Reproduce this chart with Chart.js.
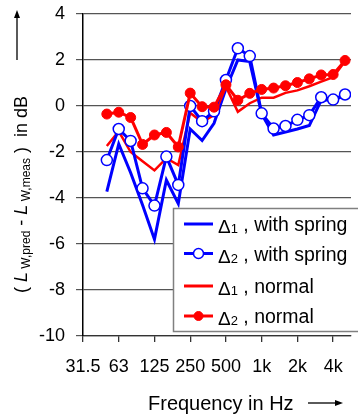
<!DOCTYPE html>
<html>
<head>
<meta charset="utf-8">
<script src="https://cdn.jsdelivr.net/npm/chart.js@4.4.0/dist/chart.umd.min.js"></script>
<style>
  html, body { margin: 0; padding: 0; background: #fff; }
  #wrap { width: 358px; height: 416px; }
</style>
</head>
<body>
<div id="wrap"><canvas id="chart" width="358" height="416"></canvas></div>
<script>
// third-octave bands, position counted in thirds from 31.5 Hz (50 Hz = 2)
const bands = ['50', '63', '80', '100', '125', '160', '200', '250', '315', '400', '500',
  '630', '800', '1k', '1.25k', '1.6k', '2k', '2.5k', '3.15k', '4k', '5k'];
const firstBandPos = 2;
const tickPos = [0, 3, 6, 9, 12, 15, 18, 21];
const tickLabels = ['31.5', '63', '125', '250', '500', '1k', '2k', '4k'];
const yTicks = [-10, -8, -6, -4, -2, 0, 2, 4];

const springD1 = [-3.72, -1.65, -2.9, -4.3, -5.8, -3.22, -4.25, -1.0, -1.5, -0.75, 0.75,
  2.0, 1.93, -0.35, -1.26, -1.13, -1.0, -0.85, 0.26, 0.26, 0.45];
const springD2 = [-2.35, -1.0, -1.52, -3.58, -4.33, -2.2, -3.43, 0.0, -0.66, -0.23, 1.13,
  2.51, 2.17, -0.32, -0.98, -0.87, -0.6, -0.4, 0.38, 0.28, 0.5];
const normalD1 = [-1.74, -1.1, -2.0, -2.4, -2.8, -2.27, -2.57, -0.3, -0.7, -0.4, 0.84,
  -0.25, 0.12, 0.36, 0.36, 0.57, 0.68, 0.86, 1.06, 1.25, 1.95];
const normalD2 = [-0.35, -0.27, -0.5, -1.67, -1.26, -1.15, -1.78, 0.56, -0.03, -0.05, 0.92,
  0.25, 0.55, 0.72, 0.78, 0.88, 1.02, 1.18, 1.35, 1.37, 1.98];

const seriesSym = ['1', '2', '1', '2'];
const seriesText = [' , with spring', ' , with spring', ' , normal', ' , normal'];

const FONT = '"Liberation Sans", Arial, sans-serif';
const BLUE = '#0000ff', RED = '#ff0000';

const pts = arr => arr.map((v, i) => ({ x: i + firstBandPos, y: v }));

// legend and axis titles drawn by hand (legend sits inside the plot)
const decorations = {
  id: 'decorations',
  afterDraw(chart) {
    const ctx = chart.ctx;
    ctx.save();

    // legend box
    const lx = 173.5, ly = 208.5, lw = 190, lh = 123;
    ctx.fillStyle = '#fff';
    ctx.fillRect(lx, ly, lw, lh);
    ctx.strokeStyle = '#808080';
    ctx.lineWidth = 1.5;
    ctx.strokeRect(lx, ly, lw, lh);

    const rows = [224, 253.5, 286, 316];
    rows.forEach((ry, i) => {
      const ds = chart.data.datasets[i];
      ctx.strokeStyle = ds.borderColor;
      ctx.lineWidth = 3;
      ctx.beginPath(); ctx.moveTo(184, ry); ctx.lineTo(213, ry); ctx.stroke();
      if (ds.pointRadius > 0) {
        ctx.beginPath(); ctx.arc(198.5, ry, ds.pointRadius - 0.5, 0, Math.PI * 2);
        ctx.fillStyle = ds.pointBackgroundColor; ctx.fill();
        ctx.lineWidth = ds.pointBorderWidth; ctx.strokeStyle = ds.pointBorderColor; ctx.stroke();
      }
      ctx.fillStyle = '#000';
      ctx.textBaseline = 'alphabetic';
      let x = 218;
      ctx.font = '19px ' + FONT;
      ctx.fillText('Δ', x, ry + 9);
      x += ctx.measureText('Δ').width;
      ctx.font = '13px ' + FONT;
      ctx.fillText(seriesSym[i], x, ry + 9);
      x += ctx.measureText(seriesSym[i]).width;
      ctx.font = '19.5px ' + FONT;
      ctx.fillText(seriesText[i], x, ry + 7);
    });

    // x title
    ctx.fillStyle = '#000';
    ctx.font = '20px ' + FONT;
    ctx.textBaseline = 'alphabetic';
    ctx.fillText('Frequency in Hz', 148, 410);
    arrow(ctx, 308, 403, 343, 403);

    // y title, rotated, with subscripts
    ctx.save();
    ctx.translate(27, 293);
    ctx.rotate(-Math.PI / 2);
    const big = '18px ' + FONT, bigI = 'italic 18px ' + FONT, small = '12px ' + FONT;
    const parts = [['( ', big, 0], ['L', bigI, 0], [' W,pred', small, 3], [' - ', big, 0],
      ['L', bigI, 0], [' W,meas', small, 3], [' )  in dB', big, 0]];
    let x = 0;
    for (const [t, f, dy] of parts) {
      ctx.font = f;
      ctx.fillText(t, x, dy);
      x += ctx.measureText(t).width;
    }
    arrow(ctx, 233, -10, 283, -10);
    ctx.restore();

    ctx.restore();
  }
};

function arrow(ctx, x1, y1, x2, y2) {
  ctx.strokeStyle = '#000';
  ctx.fillStyle = '#000';
  ctx.lineWidth = 1.3;
  ctx.beginPath(); ctx.moveTo(x1, y1); ctx.lineTo(x2 - 5, y2); ctx.stroke();
  ctx.beginPath();
  ctx.moveTo(x2, y2); ctx.lineTo(x2 - 8, y2 - 3); ctx.lineTo(x2 - 8, y2 + 3);
  ctx.closePath(); ctx.fill();
}

new Chart(document.getElementById('chart'), {
  type: 'line',
  data: {
    datasets: [
      { label: 'Δ1 , with spring', data: pts(springD1), borderColor: BLUE, borderWidth: 3,
        pointRadius: 0, order: 3, tension: 0 },
      { label: 'Δ2 , with spring', data: pts(springD2), borderColor: BLUE, borderWidth: 3,
        pointRadius: 5.5, pointBackgroundColor: '#fff', pointBorderColor: BLUE, pointBorderWidth: 1.5,
        order: 1, tension: 0 },
      { label: 'Δ1 , normal', data: pts(normalD1), borderColor: RED, borderWidth: 2.5,
        pointRadius: 0, order: 2, tension: 0 },
      { label: 'Δ2 , normal', data: pts(normalD2), borderColor: RED, borderWidth: 3,
        pointRadius: 5, pointBackgroundColor: RED, pointBorderColor: RED, pointBorderWidth: 1,
        order: 0, tension: 0 },
    ]
  },
  options: {
    responsive: false,
    animation: false,
    layout: { padding: { top: 14, right: 0, left: 0, bottom: 0 } },
    plugins: { legend: { display: false }, tooltip: { enabled: false } },
    scales: {
      x: {
        type: 'linear', min: 0, max: 22.5,
        afterBuildTicks: s => { s.ticks = tickPos.map(v => ({ value: v })); },
        afterFit: s => { s.height = 80; s.paddingLeft = 0; s.paddingRight = 0; },
        ticks: {
          autoSkip: false, maxRotation: 0, padding: 14, color: '#000',
          font: { family: FONT, size: 18 },
          callback: v => tickLabels[tickPos.indexOf(v)]
        },
        grid: { drawOnChartArea: false, drawTicks: true, tickLength: 6, color: '#333', lineWidth: 1.3 },
        border: { color: '#333', width: 1.3 }
      },
      y: {
        min: -10, max: 4,
        afterBuildTicks: s => { s.ticks = yTicks.map(v => ({ value: v })); },
        afterFit: s => { s.width = 83; s.paddingTop = 0; s.paddingBottom = 0; },
        ticks: { padding: 11, color: '#000', font: { family: FONT, size: 18 } },
        grid: { color: '#555', lineWidth: 1.2, tickLength: 7 },
        border: { color: '#000', width: 1.5 }
      }
    }
  },
  plugins: [decorations]
});
</script>
</body>
</html>
